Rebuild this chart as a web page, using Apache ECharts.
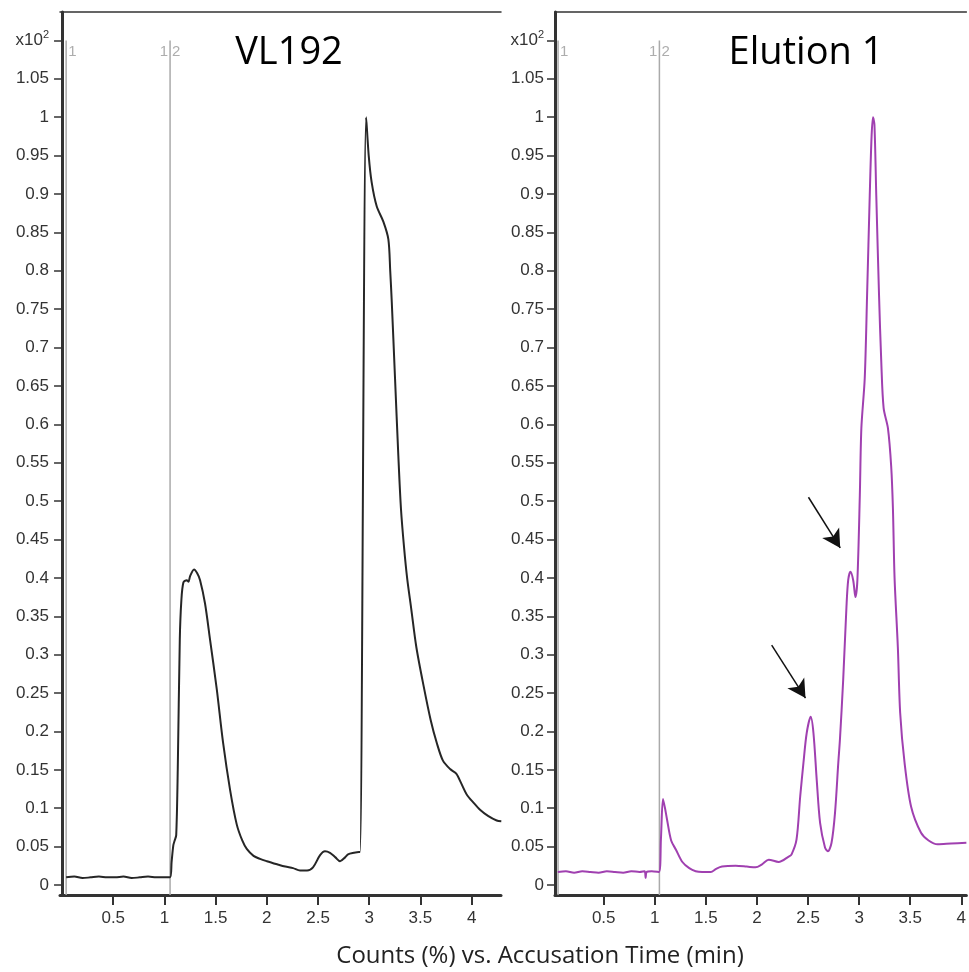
<!DOCTYPE html>
<html>
<head>
<meta charset="utf-8">
<script src="https://cdn.jsdelivr.net/npm/echarts@6/dist/echarts.min.js"></script>
<style>html,body{margin:0;padding:0;background:#fff}#c{width:969px;height:972px}</style>
</head>
<body>
<div id="c"></div>
<script>
// ---------- data ----------
const panelTitles = ['VL192', 'Elution 1'];
const xAxisTitle = 'Counts (%) vs. Accusation Time (min)';
const yTicks = [0, 0.05, 0.1, 0.15, 0.2, 0.25, 0.3, 0.35, 0.4, 0.45, 0.5, 0.55, 0.6, 0.65, 0.7, 0.75, 0.8, 0.85, 0.9, 0.95, 1, 1.05, 1.1];
const xTicks = [0.5, 1, 1.5, 2, 2.5, 3, 3.5, 4];

// VL192 trace
const vlTime = [0.04, 0.12, 0.2, 0.28, 0.36, 0.44, 0.52, 0.6, 0.68, 0.76, 0.84, 0.92, 1.0, 1.055,
  1.07, 1.087, 1.1, 1.115, 1.13, 1.15, 1.165, 1.185, 1.218, 1.235, 1.25, 1.289, 1.32, 1.348, 1.396, 1.445,
  1.511, 1.572, 1.641, 1.706, 1.76, 1.804, 1.87, 1.934, 2.0, 2.1, 2.18, 2.256, 2.324, 2.393, 2.451,
  2.52, 2.568, 2.617, 2.67, 2.715, 2.764, 2.793, 2.85, 2.9, 2.91, 2.97, 2.995, 3.024, 3.073, 3.138,
  3.187, 3.205, 3.22, 3.252, 3.284, 3.31, 3.34, 3.37, 3.41, 3.46, 3.53, 3.6, 3.66, 3.72, 3.79, 3.85, 3.9, 3.952,
  4.02, 4.082, 4.16, 4.245, 4.29];
const vlVal = [0.010, 0.011, 0.009, 0.010, 0.011, 0.010, 0.010, 0.011, 0.009, 0.010, 0.011, 0.010, 0.010, 0.010,
  0.030, 0.052, 0.058, 0.065, 0.150, 0.320, 0.370, 0.394, 0.397, 0.395, 0.402, 0.411, 0.406, 0.397, 0.367, 0.320,
  0.255, 0.186, 0.124, 0.079, 0.058, 0.047, 0.038, 0.034, 0.031, 0.027, 0.024, 0.022, 0.019, 0.019, 0.023,
  0.039, 0.044, 0.042, 0.036, 0.031, 0.036, 0.040, 0.042, 0.043, 0.043, 1.0, 0.95, 0.915, 0.884, 0.864,
  0.841, 0.80, 0.76, 0.66, 0.56, 0.49, 0.44, 0.40, 0.36, 0.31, 0.26, 0.215, 0.185, 0.162, 0.151, 0.145, 0.132, 0.118,
  0.107, 0.098, 0.090, 0.084, 0.083];

// Elution 1 trace
const elTime = [0.05, 0.13, 0.21, 0.29, 0.37, 0.45, 0.53, 0.61, 0.69, 0.77, 0.85, 0.9, 0.91, 0.92, 0.97, 1.04,
  1.06, 1.08, 1.1, 1.12, 1.16, 1.207, 1.27, 1.337, 1.4, 1.463, 1.548, 1.6, 1.658, 1.791, 1.9, 1.985,
  2.05, 2.115, 2.212, 2.31, 2.339, 2.387, 2.423, 2.455, 2.487, 2.526, 2.553, 2.585, 2.618, 2.666, 2.694,
  2.73, 2.764, 2.796, 2.812, 2.844, 2.876, 2.893, 2.915, 2.942, 2.964, 2.983, 3.007, 3.022, 3.055,
  3.078, 3.104, 3.122, 3.136, 3.15, 3.168, 3.195, 3.217, 3.24, 3.282, 3.314, 3.331, 3.347, 3.379, 3.402,
  3.445, 3.509, 3.606, 3.68, 3.768, 3.9, 4.05];
const elVal = [0.017, 0.018, 0.016, 0.018, 0.017, 0.016, 0.018, 0.017, 0.016, 0.018, 0.017, 0.018, 0.009, 0.017, 0.018, 0.017,
  0.060, 0.112, 0.100, 0.085, 0.058, 0.046, 0.030, 0.022, 0.018, 0.017, 0.017, 0.021, 0.024, 0.025, 0.024, 0.023,
  0.027, 0.033, 0.030, 0.037, 0.040, 0.059, 0.115, 0.159, 0.198, 0.219, 0.198, 0.137, 0.081, 0.049, 0.044,
  0.055, 0.094, 0.159, 0.189, 0.267, 0.362, 0.397, 0.408, 0.397, 0.375, 0.397, 0.508, 0.595, 0.660,
  0.768, 0.898, 0.975, 1.0, 0.99, 0.898, 0.768, 0.681, 0.621, 0.595, 0.545, 0.490, 0.400, 0.310, 0.224,
  0.159, 0.102, 0.068, 0.058, 0.053, 0.054, 0.055];

// vertical experiment markers (time) per panel
const vlMarkers = [0.04, 1.055];
const elMarkers = [0.053, 1.045];
const markerTop = 1.1;
const markerLabelY = 1.085;

// annotation arrows in Elution 1: [startTime, startVal, tipTime, tipVal]
const elArrows = [
  [2.504, 0.505, 2.815, 0.439],
  [2.144, 0.3125, 2.475, 0.2435]
];

// ---------- chart ----------
const yMin = -0.013, yMax = 1.137;
const chart = echarts.init(document.getElementById('c'), null, {renderer: 'canvas'});
const FONT = 'Liberation Sans';

function yAxisCfg(gi) {
  return {
    type: 'value', gridIndex: gi, min: yMin, max: yMax,
    splitLine: {show: false},
    axisLine: {show: true, lineStyle: {color: '#333', width: 3}},
    axisTick: {show: true, length: 8, customValues: yTicks, lineStyle: {color: '#333', width: 1.5}},
    axisLabel: {
      show: true, margin: 11, customValues: yTicks, color: '#333', fontSize: 17, fontFamily: FONT,
      formatter: v => (Math.abs(v - 1.1) < 1e-9 ? '{a|x10}{s|2}' : String(v)),
      rich: {a: {fontSize: 17, color: '#333', fontFamily: FONT},
             s: {fontSize: 11, color: '#333', fontFamily: FONT, padding: [0, 0, 10, 0]}}
    }
  };
}
function xAxisCfg(gi, min, max) {
  return {
    type: 'value', gridIndex: gi, min: min, max: max,
    splitLine: {show: false},
    axisLine: {show: true, onZero: false, lineStyle: {color: '#333', width: 3}},
    axisTick: {show: true, length: 10, customValues: xTicks, lineStyle: {color: '#333', width: 2}},
    axisLabel: {show: true, margin: 15, customValues: xTicks, color: '#333', fontSize: 17, fontFamily: FONT,
      formatter: v => String(v)}
  };
}
function topAxisCfg(gi, min, max) {
  return {
    type: 'value', gridIndex: gi, min: min, max: max, position: 'top',
    splitLine: {show: false}, axisTick: {show: false}, axisLabel: {show: false},
    axisLine: {show: true, onZero: false, lineStyle: {color: '#333', width: 1.5}}
  };
}
function markerSeries(xi, yi, t) {
  return {
    type: 'line', xAxisIndex: xi, yAxisIndex: yi, silent: true, symbol: 'none', z: 1,
    lineStyle: {color: '#aaa', width: 1.5},
    data: [[t, yMin], [t, markerTop]]
  };
}
function labelSeries(xi, yi, t, text, pos) {
  return {
    type: 'scatter', xAxisIndex: xi, yAxisIndex: yi, silent: true, symbolSize: 0, z: 3,
    data: [[t, markerLabelY]],
    label: {show: true, position: pos, distance: 2, formatter: text, color: '#999', fontSize: 15, fontFamily: FONT}
  };
}

const lxMin = -0.02, lxMax = 4.287;
const rxMin = 0.023, rxMax = 4.05;

const series = [
  markerSeries(0, 0, vlMarkers[0]),
  markerSeries(0, 0, vlMarkers[1]),
  markerSeries(2, 1, elMarkers[0]),
  markerSeries(2, 1, elMarkers[1]),
  labelSeries(0, 0, vlMarkers[0], '1', 'right'),
  labelSeries(0, 0, vlMarkers[1], '1', 'left'),
  labelSeries(0, 0, vlMarkers[1], '2', 'right'),
  labelSeries(2, 1, elMarkers[0], '1', 'right'),
  labelSeries(2, 1, elMarkers[1], '1', 'left'),
  labelSeries(2, 1, elMarkers[1], '2', 'right'),
  {
    type: 'line', xAxisIndex: 0, yAxisIndex: 0, symbol: 'none', smooth: 0.3, z: 2,
    lineStyle: {color: '#262626', width: 2},
    data: vlTime.map((t, i) => [t, vlVal[i]])
  },
  {
    type: 'line', xAxisIndex: 2, yAxisIndex: 1, symbol: 'none', smooth: 0.3, z: 2,
    lineStyle: {color: '#a040b0', width: 2},
    data: elTime.map((t, i) => [t, elVal[i]]),
    markLine: {
      silent: true, symbol: ['none', 'arrow'], symbolSize: [15, 18], animation: false,
      label: {show: false},
      lineStyle: {color: '#111', width: 1.5, type: 'solid'},
      data: elArrows.map(a => [{coord: [a[0], a[1]]}, {coord: [a[2], a[3]]}])
    }
  }
];

chart.setOption({
  animation: false,
  backgroundColor: '#fff',
  grid: [
    {left: 60, top: 12, width: 441, height: 883},
    {left: 555, top: 12, width: 414, height: 883}
  ],
  xAxis: [xAxisCfg(0, lxMin, lxMax), topAxisCfg(0, lxMin, lxMax), xAxisCfg(1, rxMin, rxMax), topAxisCfg(1, rxMin, rxMax)],
  yAxis: [yAxisCfg(0), yAxisCfg(1)],
  graphic: [
    {type: 'text', x: 289, y: 53, style: {text: panelTitles[0], font: '38px "Open Sans"', fill: '#000', textAlign: 'center', textVerticalAlign: 'middle'}},
    {type: 'text', x: 806, y: 53, style: {text: panelTitles[1], font: '38px "Open Sans"', fill: '#000', textAlign: 'center', textVerticalAlign: 'middle'}},
    {type: 'text', x: 540, y: 956, style: {text: xAxisTitle, font: '24px "Open Sans"', fill: '#222', textAlign: 'center', textVerticalAlign: 'middle'}}
  ],
  series: series
});
</script>
</body>
</html>
